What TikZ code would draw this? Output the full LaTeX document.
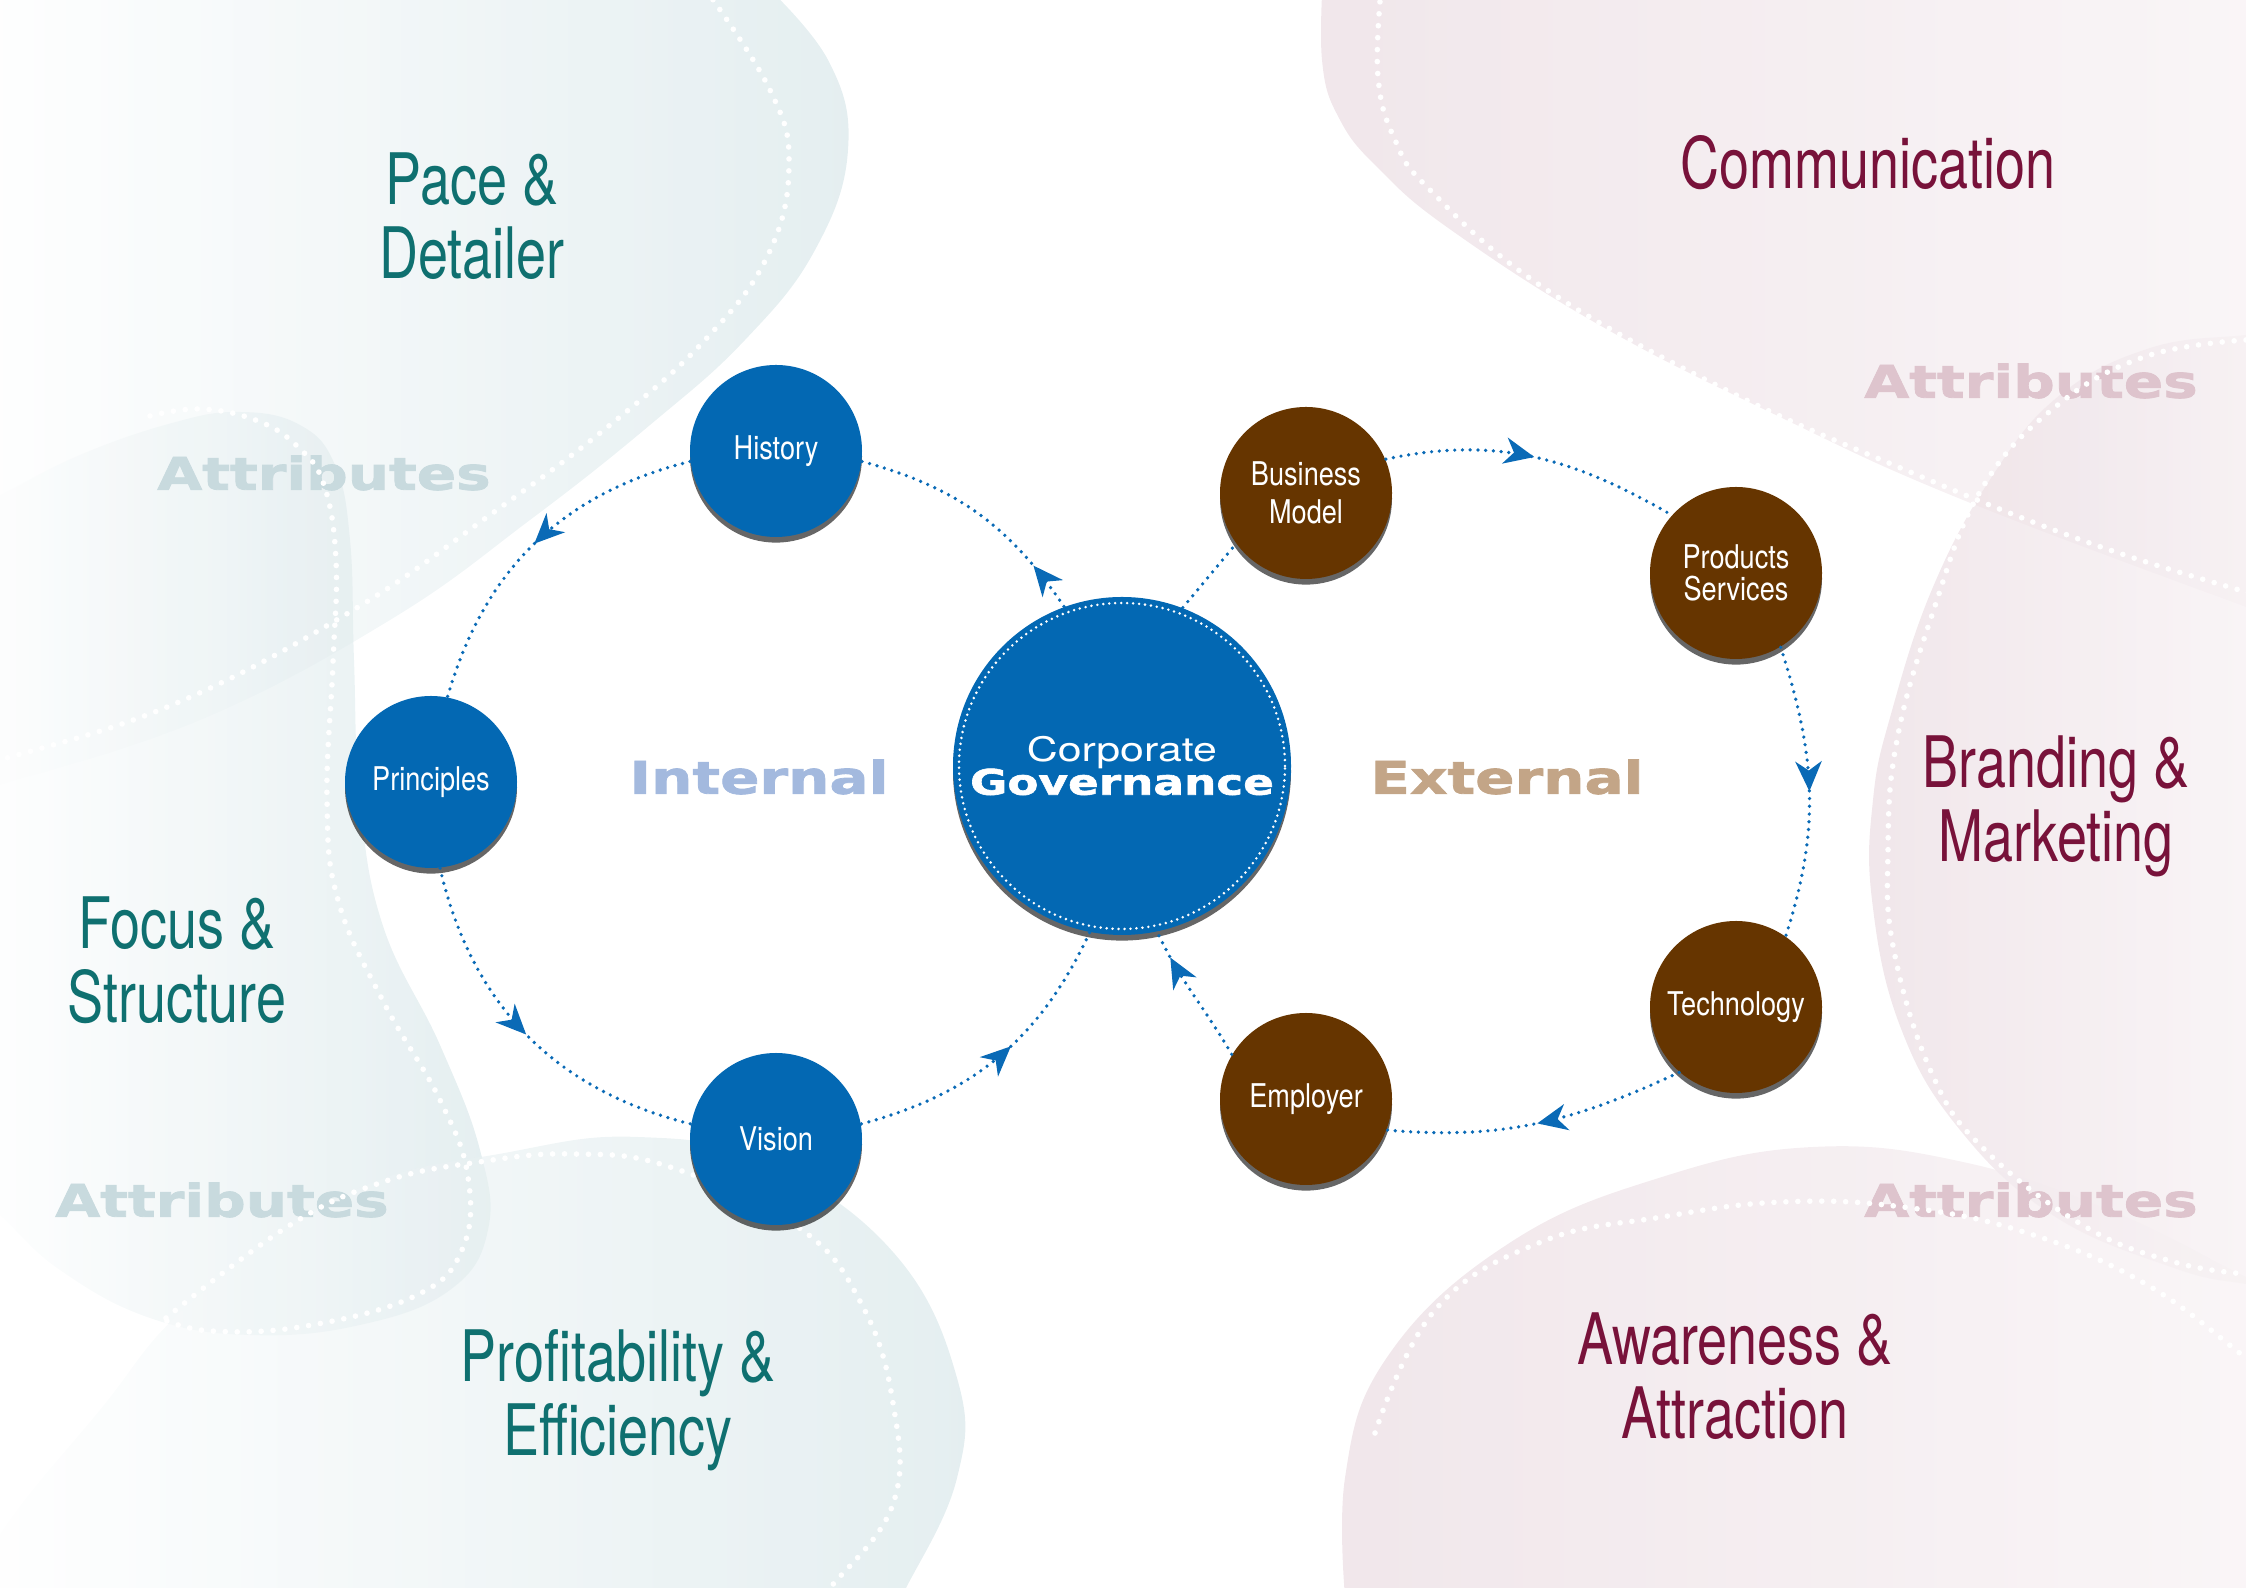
\documentclass[tikz,border=0pt]{standalone}
\usepackage{fontspec}
\setmainfont{TeX Gyre Heros}
\newfontfamily\narrowfont[FakeStretch=0.83]{TeX Gyre Heros}
\newfontfamily\thinfont[FakeStretch=0.76]{TeX Gyre Heros}
\newfontfamily\widefont[FakeStretch=1.27]{TeX Gyre Heros}
\newfontfamily\blackfont[FakeStretch=1.29,FakeBold=1.8]{DejaVu Sans Bold}
\usetikzlibrary{arrows.meta,decorations.markings,shadows}

\definecolor{govblue}{RGB}{3,104,179}
\definecolor{extbrown}{RGB}{102,53,0}
\definecolor{dotblue}{RGB}{10,106,182}
\definecolor{intlabel}{RGB}{163,185,222}
\definecolor{extlabel}{RGB}{195,165,135}
\definecolor{tealtext}{RGB}{15,112,112}
\definecolor{wine}{RGB}{120,18,58}
\definecolor{tealbg}{RGB}{212,228,231}
\definecolor{pinkbg}{RGB}{234,219,225}
\definecolor{tealattr}{RGB}{200,218,222}
\definecolor{pinkattr}{RGB}{222,196,205}

\tikzset{
  ball/.style={circle, minimum size=1.72cm, inner sep=0pt, text=white, align=center,
    font=\narrowfont\fontsize{9.3}{10.8}\selectfont,
    drop shadow={shadow xshift=0pt, shadow yshift=-1.6pt, opacity=.6, fill=black}},
  inball/.style={ball, fill=govblue},
  exball/.style={ball, fill=extbrown},
  flow/.style={draw=dotblue, line width=1.05pt, line cap=round, dash pattern=on 0pt off 2.2pt},
  midarrow/.style={postaction={decorate, decoration={markings,
      mark=at position #1 with {\arrow{Stealth[length=8.5pt,width=7.5pt,inset=2.6pt]}}}}},
  rim/.style={draw=white, line width=1.6pt, line cap=round, dash pattern=on 0pt off 3.4pt},
  ringdots/.style={draw=white, line width=0.8pt, line cap=round, dash pattern=on 0pt off 1.7pt},
  area/.style={align=center, font=\thinfont\fontsize{20.2}{21}\selectfont},
  attr/.style={font=\blackfont\fontsize{12.8}{14}\selectfont},
  sidelabel/.style={font=\blackfont\fontsize{12.8}{14}\selectfont},
  tealblob/.style={left color=white, right color=tealbg, fill opacity=.62},
  pinkblob/.style={left color=pinkbg, right color=pinkbg!35!white, fill opacity=.68}
}

\begin{document}
\begin{tikzpicture}
  \useasboundingbox (0,0) rectangle (22.46,15.88);

  % Background shapes
  \begin{scope}
    \clip (0,0) rectangle (22.46,15.88);
    \shade[tealblob] plot[smooth, tension=.7] coordinates {(7.60,16.08) (8.28,15.28) (8.48,14.38)
      (8.15,13.38) (7.45,12.48) (6.50,11.63) (5.30,10.68) (3.90,9.68) (2.00,8.68) (0,8.03) (-0.40,7.93)}
      -- (-0.5,16.4) -- cycle;
    \shade[tealblob] plot[smooth, tension=.7] coordinates {(-0.40,10.78) (0,10.93) (0.80,11.33)
      (1.72,11.65) (2.40,11.76) (3.00,11.63) (3.35,11.23) (3.50,10.48) (3.54,9.28) (3.60,7.88)
      (3.83,6.62) (4.40,5.43) (4.80,4.38) (4.88,3.58) (4.50,2.98) (3.60,2.63) (2.50,2.53)
      (1.50,2.70) (0.60,3.18) (0,3.73) (-0.40,4.08)} -- cycle;
    \shade[tealblob] plot[smooth, tension=.7] coordinates {(-0.40,-0.32) (0,0.54) (1.00,1.78)
      (1.91,2.85) (3.51,3.96) (5.10,4.36) (6.38,4.51) (7.66,4.26) (8.93,3.36) (9.57,2.10)
      (9.57,1.10) (9.06,0) (8.80,-0.42)} -- (-0.4,-0.42) -- cycle;
    \shade[pinkblob] plot[smooth, tension=.7] coordinates {(13.24,16.28) (13.22,15.28) (13.40,14.68)
      (13.80,14.18) (14.51,13.58) (16.01,12.62) (17.82,11.70) (19.63,10.88) (22.46,9.81) (23.00,9.63)}
      -- (23,16.4) -- cycle;
    \shade[pinkblob] plot[smooth, tension=.7] coordinates {(23.00,12.58) (22.46,12.53) (21.50,12.40)
      (20.60,11.93) (19.93,11.13) (19.33,10.01) (18.91,8.74) (18.73,7.88) (18.72,6.88) (19.00,5.62)
      (19.60,4.58) (20.54,3.72) (21.74,3.20) (22.46,3.04) (23.00,2.98)} -- cycle;
    \shade[pinkblob] plot[smooth, tension=.7] coordinates {(13.48,-0.42) (13.45,1.10) (13.90,2.35)
      (15.11,3.46) (16.62,4.11) (18.13,4.41) (19.63,4.26) (21.14,3.76) (22.46,3.11) (23.00,2.88)}
      -- (23,-0.42) -- cycle;

    % Watermarks
    \node[attr, text=tealattr] (attrA) at (3.24,11.15) {Attributes};
    \node[attr, text=tealattr] (attrB) at (2.22,3.88) {Attributes};
    \node[attr, text=pinkattr] (attrC) at (20.31,12.07) {Attributes};
    \node[attr, text=pinkattr] (attrD) at (20.31,3.88) {Attributes};

    % Dotted rims
    \draw[rim] plot[smooth, tension=.7] coordinates {(7.06,15.98) (7.70,14.98) (7.89,14.23) (7.68,13.33)
      (7.05,12.48) (6.10,11.63) (4.90,10.73) (3.50,9.76) (1.72,8.83) (0,8.28) (-0.20,8.23)};
    \draw[rim] plot[smooth, tension=.7] coordinates {(1.50,11.72) (2.01,11.79) (2.58,11.67) (2.98,11.41)
      (3.24,11.03) (3.36,10.27) (3.33,9.25) (3.27,7.88) (3.38,6.88) (3.83,5.87) (4.40,4.88)
      (4.68,4.11) (4.62,3.38) (4.15,2.92) (3.06,2.62) (2.11,2.57) (1.60,2.70)};
    \draw[rim] plot[smooth, tension=.7] coordinates {(1.66,2.70) (2.87,3.61) (3.83,4.06) (4.79,4.26)
      (5.74,4.34) (6.70,4.21) (7.98,3.61) (8.61,2.85) (8.93,1.85) (8.93,0.84) (8.30,0) (8.10,-0.22)};
    \draw[rim] plot[smooth, tension=.7] coordinates {(13.81,15.98) (13.78,15.11) (13.95,14.48)
      (14.30,13.98) (15.41,13.02) (17.22,12.00) (19.03,11.19) (20.84,10.47) (22.46,9.96) (22.80,9.88)};
    \draw[rim] plot[smooth, tension=.7] coordinates {(22.46,12.48) (21.44,12.31) (20.54,11.80)
      (19.81,10.98) (19.33,9.76) (18.97,8.48) (18.88,7.38) (18.94,6.37) (19.33,5.12) (19.85,4.38)
      (20.84,3.62) (21.74,3.26) (22.46,3.14)};
    \draw[rim] plot[smooth, tension=.7] coordinates {(13.75,1.55) (14.35,2.78) (15.41,3.46)
      (16.62,3.71) (17.82,3.86) (19.03,3.81) (20.24,3.56) (21.44,3.05) (22.46,2.30) (22.80,2.03)};
  \end{scope}

  % Area labels
  \node[area, text=tealtext] (pace) at (4.72,13.72) {Pace \&\\Detailer};
  \node[area, text=tealtext] (focus) at (1.77,6.28) {Focus \&\\Structure};
  \node[area, text=tealtext] (profit) at (6.18,1.88) {Profitability \&\\Efficiency};
  \node[area, text=wine] (comm) at (18.68,14.25) {Communication};
  \node[area, text=wine] (brand) at (20.56,7.82) {Branding \&\\Marketing};
  \node[area, text=wine] (aware) at (17.35,2.12) {Awareness \&\\Attraction};

  \node[sidelabel, text=intlabel] (internal) at (7.59,8.11) {Internal};
  \node[sidelabel, text=extlabel] (external) at (15.07,8.11) {External};

  % Circles
  \node[inball] (history) at (7.76,11.37) {History};
  \node[inball] (principles) at (4.31,8.06) {Principles};
  \node[inball] (vision) at (7.76,4.49) {Vision};
  \node[ball, fill=govblue, minimum size=3.38cm] (cg) at (11.22,8.22)
    {{\widefont\fontsize{9.6}{10}\selectfont Corporate}\\[-1.5pt]
     {\blackfont\fontsize{10}{10}\selectfont Governance}};
  \draw[ringdots] (cg.center) circle (1.63);
  \node[exball] (business) at (13.06,10.95) {Business\\Model};
  \node[exball] (products) at (17.36,10.15) {Products\\[-1.7pt]Services};
  \node[exball] (technology) at (17.36,5.81) {Technology};
  \node[exball] (employer) at (13.06,4.89) {Employer};

  % Internal loop
  \draw[flow, midarrow=0.2] (cg.110) to[out=124,in=-15] (history.-7);
  \draw[flow, midarrow=0.5] (history.187) to[out=194,in=74] (principles.79);
  \draw[flow, midarrow=0.5] (principles.-84) to[out=283,in=166] (vision.170);
  \draw[flow, midarrow=0.55] (vision.10) to[out=15,in=245] (cg.259);

  % External loop
  \draw[flow] (cg.69) -- (business.216);
  \draw[flow, midarrow=0.5] (business.23) to[out=12,in=150] (products.138);
  \draw[flow, midarrow=0.5] (products.-59) to[out=-72,in=72] (technology.55);
  \draw[flow, midarrow=0.5] (technology.229) to[out=205,in=-5] (employer.-21);
  \draw[flow, midarrow=0.8] (employer.149) to[out=120,in=-65] (cg.-78);
\end{tikzpicture}
\end{document}
